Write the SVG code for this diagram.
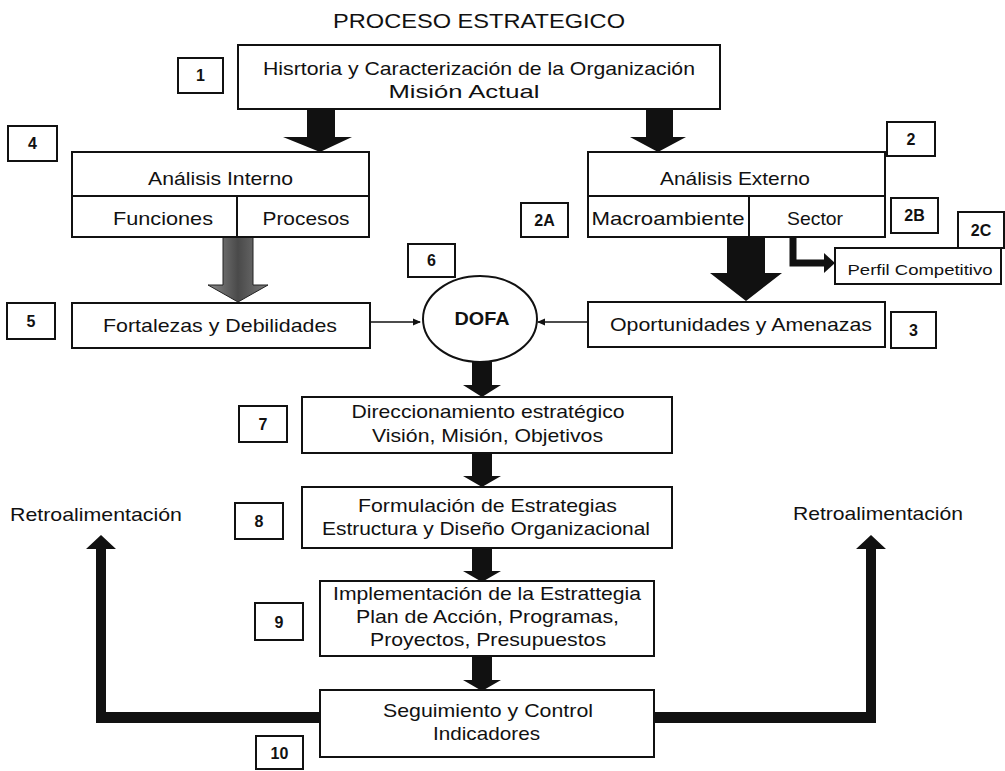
<svg xmlns="http://www.w3.org/2000/svg" width="1005" height="771" viewBox="0 0 1005 771">
  <style>
    .box { fill: #fff; stroke: #111; stroke-width: 2; }
    .tag { fill: #fff; stroke: #111; stroke-width: 2; }
    .txt { font-family: "Liberation Sans", Arial, sans-serif; font-size: 19px; fill: #111; text-anchor: middle; }
    .num { font-family: "Liberation Sans", Arial, sans-serif; font-size: 16px; font-weight: bold; fill: #111; text-anchor: middle; }
    .dofa { font-family: "Liberation Sans", Arial, sans-serif; font-size: 18px; font-weight: bold; fill: #111; text-anchor: middle; }
    .title { font-family: "Liberation Sans", Arial, sans-serif; font-size: 20px; fill: #111; text-anchor: middle; }
    .small { font-family: "Liberation Sans", Arial, sans-serif; font-size: 15px; fill: #111; text-anchor: middle; }
    .solid { fill: #111; stroke: none; }
    .thin { stroke: #111; stroke-width: 1.5; fill: none; }
    .rule { stroke: #111; stroke-width: 2; }
  </style>
  <defs>
    <marker id="tip" markerWidth="8" markerHeight="8" refX="7" refY="4" orient="auto" markerUnits="userSpaceOnUse">
      <path d="M0,0.5 L8,4 L0,7.5 Z" fill="#111"/>
    </marker>
    <linearGradient id="grey" x1="0" y1="0" x2="1" y2="0">
      <stop offset="0" stop-color="#8a8a8a"/>
      <stop offset="0.5" stop-color="#4a4a4a"/>
      <stop offset="1" stop-color="#7a7a7a"/>
    </linearGradient>
  </defs>

  <rect width="1005" height="771" fill="#fff"/>

  <text class="title" x="479" y="28" textLength="292" lengthAdjust="spacingAndGlyphs">PROCESO ESTRATEGICO</text>

  <!-- connectors -->
  <g id="connectors">
    <!-- box 1 to internal / external analysis -->
    <path class="solid" d="M307,109 H335 V137 H352 L320,152 L283,137 H307 Z"/>
    <path class="solid" d="M646,109 H673 V137 H686 L658,152 L630,137 H646 Z"/>
    <!-- internal analysis to strengths/weaknesses -->
    <path d="M223,237 H253 V285 H268 L238,302 L208,285 H223 Z" fill="url(#grey)" stroke="#222" stroke-width="1"/>
    <!-- external analysis to opportunities/threats -->
    <path class="solid" d="M727,237 H765 V273 H782 L746,301 L710,273 H727 Z"/>
    <!-- sector to competitive profile -->
    <path d="M793,237 V263 H826" fill="none" stroke="#111" stroke-width="7"/>
    <path class="solid" d="M824,253 L835,263 L824,273 Z"/>
    <!-- into DOFA -->
    <line class="thin" x1="370" y1="322" x2="420" y2="322" marker-end="url(#tip)"/>
    <line class="thin" x1="588" y1="322" x2="538" y2="322" marker-end="url(#tip)"/>
    <!-- main vertical flow -->
    <path class="solid" d="M472,362 H492 V385 H501 L482,397 L463,385 H472 Z"/>
    <path class="solid" d="M472,453 H492 V476 H501 L482,487 L463,476 H472 Z"/>
    <path class="solid" d="M472,548 H492 V571 H501 L482,582 L463,571 H472 Z"/>
    <path class="solid" d="M472,656 H492 V680 H501 L482,691 L463,680 H472 Z"/>
    <!-- feedback loops -->
    <path class="solid" d="M320,712 H106 V549 H116 L101,535 L86,549 H96 V723 H320 Z"/>
    <path class="solid" d="M654,712 H866 V549 H856 L871,535 L886,549 H876 V723 H654 Z"/>
  </g>

  <!-- 1: history and characterisation -->
  <g id="n1">
    <rect class="box" x="238" y="45" width="482" height="64"/>
    <text class="txt" x="479" y="75" textLength="432" lengthAdjust="spacingAndGlyphs">Hisrtoria y Caracterización de la Organización</text>
    <text class="txt" x="464" y="98" textLength="151" lengthAdjust="spacingAndGlyphs">Misión Actual</text>
  </g>
  <g id="tag1"><rect class="tag" x="178" y="58" width="45" height="35"/><text class="num" x="200.5" y="81">1</text></g>

  <!-- 4: internal analysis -->
  <g id="n4">
    <rect class="box" x="72" y="152" width="297" height="85"/>
    <line class="rule" x1="72" y1="196" x2="369" y2="196"/>
    <line class="rule" x1="237" y1="196" x2="237" y2="237"/>
    <text class="txt" x="220.5" y="185" textLength="145" lengthAdjust="spacingAndGlyphs">Análisis Interno</text>
    <text class="txt" x="163" y="225" textLength="100" lengthAdjust="spacingAndGlyphs">Funciones</text>
    <text class="txt" x="306" y="225" textLength="87" lengthAdjust="spacingAndGlyphs">Procesos</text>
  </g>
  <g id="tag4"><rect class="tag" x="8" y="126" width="49" height="35"/><text class="num" x="32.5" y="149">4</text></g>

  <!-- 2: external analysis -->
  <g id="n2">
    <rect class="box" x="588" y="152" width="297" height="85"/>
    <line class="rule" x1="588" y1="196" x2="885" y2="196"/>
    <line class="rule" x1="749" y1="196" x2="749" y2="237"/>
    <text class="txt" x="735" y="185" textLength="150" lengthAdjust="spacingAndGlyphs">Análisis Externo</text>
    <text class="txt" x="668" y="225" textLength="153" lengthAdjust="spacingAndGlyphs">Macroambiente</text>
    <text class="txt" x="815" y="225" textLength="56" lengthAdjust="spacingAndGlyphs">Sector</text>
  </g>
  <g id="tag2"><rect class="tag" x="887" y="122" width="48" height="34"/><text class="num" x="911" y="145">2</text></g>
  <g id="tag2A"><rect class="tag" x="521" y="203" width="47" height="34"/><text class="num" x="544.5" y="226">2A</text></g>
  <g id="tag2B"><rect class="tag" x="891" y="198" width="47" height="35"/><text class="num" x="914.5" y="221">2B</text></g>

  <!-- 2C: competitive profile -->
  <g id="n2C">
    <rect class="box" x="835" y="248" width="166" height="36"/>
    <text class="small" x="920" y="275" textLength="145" lengthAdjust="spacingAndGlyphs">Perfil Competitivo</text>
  </g>
  <g id="tag2C"><rect class="tag" x="958" y="212" width="46" height="36"/><text class="num" x="981" y="236">2C</text></g>

  <!-- 5: strengths and weaknesses -->
  <g id="n5">
    <rect class="box" x="72" y="303" width="298" height="45"/>
    <text class="txt" x="220" y="332" textLength="234" lengthAdjust="spacingAndGlyphs">Fortalezas y Debilidades</text>
  </g>
  <g id="tag5"><rect class="tag" x="7" y="303" width="48" height="36"/><text class="num" x="31" y="327">5</text></g>

  <!-- 6: DOFA -->
  <g id="n6">
    <ellipse class="box" cx="480" cy="319" rx="57" ry="43"/>
    <text class="dofa" x="482" y="325" textLength="55" lengthAdjust="spacingAndGlyphs">DOFA</text>
  </g>
  <g id="tag6"><rect class="tag" x="408" y="244" width="47" height="33"/><text class="num" x="431.5" y="266">6</text></g>

  <!-- 3: opportunities and threats -->
  <g id="n3">
    <rect class="box" x="588" y="302" width="297" height="45"/>
    <text class="txt" x="741" y="331" textLength="262" lengthAdjust="spacingAndGlyphs">Oportunidades y Amenazas</text>
  </g>
  <g id="tag3"><rect class="tag" x="891" y="312" width="45" height="36"/><text class="num" x="913.5" y="336">3</text></g>

  <!-- 7: strategic direction -->
  <g id="n7">
    <rect class="box" x="302" y="397" width="370" height="56"/>
    <text class="txt" x="488" y="418" textLength="273" lengthAdjust="spacingAndGlyphs">Direccionamiento estratégico</text>
    <text class="txt" x="487.5" y="442" textLength="231" lengthAdjust="spacingAndGlyphs">Visión, Misión, Objetivos</text>
  </g>
  <g id="tag7"><rect class="tag" x="239" y="406" width="48" height="36"/><text class="num" x="263" y="430">7</text></g>

  <!-- 8: strategy formulation -->
  <g id="n8">
    <rect class="box" x="302" y="487" width="370" height="61"/>
    <text class="txt" x="487.5" y="512" textLength="259" lengthAdjust="spacingAndGlyphs">Formulación de Estrategias</text>
    <text class="txt" x="486" y="535" textLength="328" lengthAdjust="spacingAndGlyphs">Estructura y Diseño Organizacional</text>
  </g>
  <g id="tag8"><rect class="tag" x="235" y="503" width="48" height="36"/><text class="num" x="259" y="527">8</text></g>

  <!-- 9: implementation -->
  <g id="n9">
    <rect class="box" x="320" y="581" width="334" height="75"/>
    <text class="txt" x="487" y="600" textLength="308" lengthAdjust="spacingAndGlyphs">Implementación de la Estrattegia</text>
    <text class="txt" x="487.5" y="623" textLength="263" lengthAdjust="spacingAndGlyphs">Plan de Acción, Programas,</text>
    <text class="txt" x="488" y="646" textLength="236" lengthAdjust="spacingAndGlyphs">Proyectos, Presupuestos</text>
  </g>
  <g id="tag9"><rect class="tag" x="255" y="603" width="48" height="37"/><text class="num" x="279" y="628">9</text></g>

  <!-- 10: monitoring and control -->
  <g id="n10">
    <rect class="box" x="320" y="690" width="334" height="67"/>
    <text class="txt" x="488" y="717" textLength="210" lengthAdjust="spacingAndGlyphs">Seguimiento y Control</text>
    <text class="txt" x="486.5" y="740" textLength="107" lengthAdjust="spacingAndGlyphs">Indicadores</text>
  </g>
  <g id="tag10"><rect class="tag" x="256" y="736" width="47" height="33"/><text class="num" x="279.5" y="759">10</text></g>

  <!-- feedback labels -->
  <g id="fb-left"><text class="txt" x="96" y="521" textLength="172" lengthAdjust="spacingAndGlyphs">Retroalimentación</text></g>
  <g id="fb-right"><text class="txt" x="878" y="520" textLength="170" lengthAdjust="spacingAndGlyphs">Retroalimentación</text></g>
</svg>
